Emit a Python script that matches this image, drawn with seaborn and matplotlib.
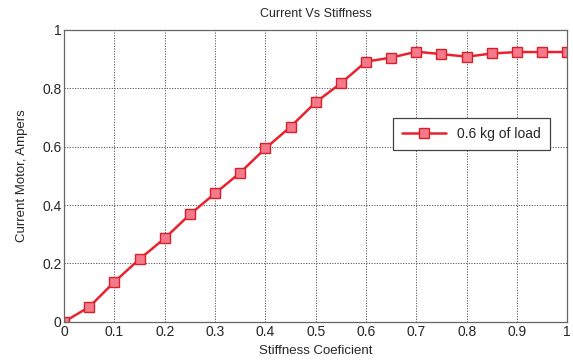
import matplotlib
matplotlib.use("Agg")
import matplotlib.pyplot as plt
import seaborn as sns
import pandas as pd

stiffness = [0.0, 0.05, 0.1, 0.15, 0.2, 0.25, 0.3, 0.35, 0.4, 0.45, 0.5,
             0.55, 0.6, 0.65, 0.7, 0.75, 0.8, 0.85, 0.9, 0.95, 1.0]
current = [0.0, 0.051, 0.137, 0.215, 0.286, 0.368, 0.44, 0.511, 0.594, 0.668, 0.752,
           0.817, 0.891, 0.905, 0.925, 0.917, 0.908, 0.919, 0.924, 0.924, 0.924]
series_label = "0.6 kg of load"
xticks = [0, 0.1, 0.2, 0.3, 0.4, 0.5, 0.6, 0.7, 0.8, 0.9, 1]
yticks = [0, 0.2, 0.4, 0.6, 0.8, 1]

sns.set_style("white")
plt.rcParams['font.family'] = ['Liberation Sans', 'DejaVu Sans']

df = pd.DataFrame({"x": stiffness, "y": current})

fig = plt.figure(figsize=(5.73, 3.64), dpi=100)
ax = fig.add_axes([0.112, 0.116, 0.878, 0.802])

sns.lineplot(data=df, x="x", y="y", ax=ax, color="#e8232f", linewidth=1.8,
             marker="s", markersize=7, markerfacecolor="#f27a8a",
             markeredgecolor="#d91f2c", markeredgewidth=1.0, label=series_label)

ax.set_xlim(0, 1)
ax.set_ylim(0, 1)
ax.set_xticks(xticks)
ax.set_yticks(yticks)
ax.set_xticklabels([f"{t:g}" for t in xticks], fontsize=10)
ax.set_yticklabels([f"{t:g}" for t in yticks], fontsize=10)
ax.tick_params(axis='both', length=0, pad=2)
ax.grid(True, linestyle=(0, (1.2, 1.5)), color="#555555", linewidth=0.7)
for s in ax.spines.values():
    s.set_color("#666666")
    s.set_linewidth(0.9)

ax.set_title("Current Vs Stiffness", fontsize=9, pad=9)
ax.set_xlabel("Stiffness Coeficient", fontsize=9.5, labelpad=5)
ax.set_ylabel("Current Motor, Ampers", fontsize=9.5, labelpad=10)

leg = ax.legend(loc="upper right", bbox_to_anchor=(0.966, 0.698), fontsize=10,
                frameon=True, fancybox=False, framealpha=1, edgecolor="#444444",
                handlelength=3.2, borderpad=0.65, borderaxespad=0)
leg.get_frame().set_linewidth(0.9)

fig.savefig("out.png", dpi=100)
